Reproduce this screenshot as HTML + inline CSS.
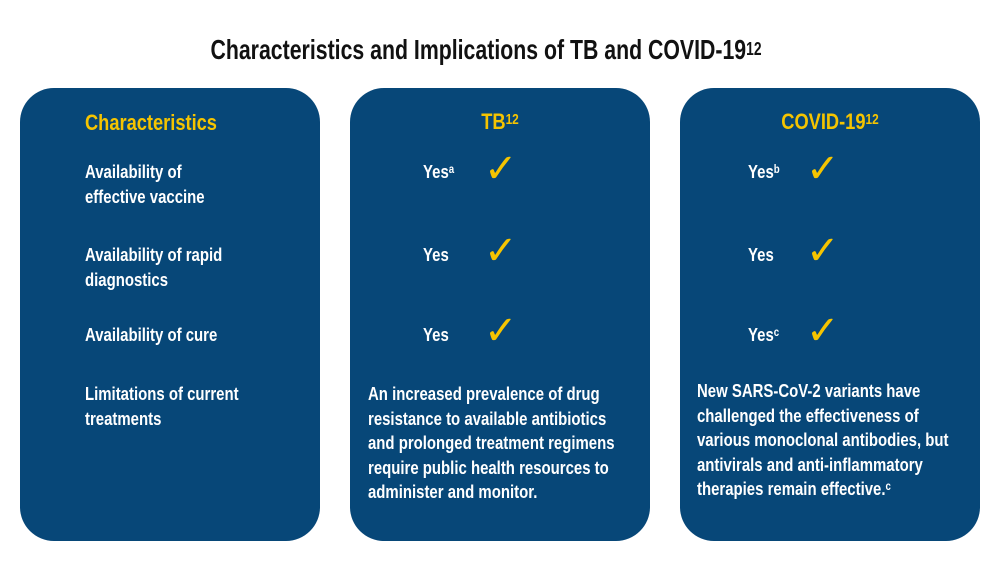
<!DOCTYPE html>
<html><head><meta charset="utf-8"><style>
body{margin:0;width:1000px;height:563px;background:#fff;position:relative;overflow:hidden;font-family:"Liberation Sans",sans-serif;font-weight:bold}
.p{position:absolute;top:88px;width:300px;height:453px;background:#074778;border-radius:34px}
.t{position:absolute;color:#fff;font-size:18px;line-height:24.5px;white-space:nowrap;transform:scaleX(.83);transform-origin:left top}
.c{transform-origin:center top}
.y{color:#f5c400}
.ck{position:absolute;color:#f5c400;font-size:40px;line-height:40px;font-family:"DejaVu Sans",sans-serif;font-weight:bold}
sup{font-size:65%;vertical-align:top;position:relative;top:-2px}
</style></head><body>
<div style="position:absolute;left:-14px;width:1000px;top:33px;text-align:center;font-size:28px;line-height:34px;color:#111;transform:scaleX(.76);transform-origin:center top">Characteristics and Implications of TB and COVID-19<sup style="top:-1px">12</sup></div>
<div class="p" style="left:20px"></div>
<div class="p" style="left:350px"></div>
<div class="p" style="left:680px"></div>
<div class="t y" style="left:85px;top:111px;font-size:22px">Characteristics</div>
<div class="t y c" style="left:350px;width:300px;text-align:center;top:110px;font-size:22px">TB<sup>12</sup></div>
<div class="t y c" style="left:680px;width:300px;text-align:center;top:110px;font-size:22px">COVID-19<sup>12</sup></div>
<div class="t" style="left:85px;top:160px">Availability of<br>effective vaccine</div>
<div class="t" style="left:85px;top:243px">Availability of rapid<br>diagnostics</div>
<div class="t" style="left:85px;top:323px">Availability of cure</div>
<div class="t" style="left:85px;top:382px">Limitations of current<br>treatments</div>
<div class="t" style="left:423px;top:160px">Yes<sup>a</sup></div>
<div class="t" style="left:423px;top:243px">Yes</div>
<div class="t" style="left:423px;top:323px">Yes</div>
<div class="t" style="left:748px;top:160px">Yes<sup>b</sup></div>
<div class="t" style="left:748px;top:243px">Yes</div>
<div class="t" style="left:748px;top:323px">Yes<sup>c</sup></div>
<div class="ck" style="left:484px;top:149px">✓</div>
<div class="ck" style="left:484px;top:231px">✓</div>
<div class="ck" style="left:484px;top:311px">✓</div>
<div class="ck" style="left:806px;top:149px">✓</div>
<div class="ck" style="left:806px;top:231px">✓</div>
<div class="ck" style="left:806px;top:311px">✓</div>
<div class="t" style="left:368px;top:382px">An increased prevalence of drug<br>resistance to available antibiotics<br>and prolonged treatment regimens<br>require public health resources to<br>administer and monitor.</div>
<div class="t" style="left:697px;top:379px">New SARS-CoV-2 variants have<br>challenged the effectiveness of<br>various monoclonal antibodies, but<br>antivirals and anti-inflammatory<br>therapies remain effective.<sup>c</sup></div>
</body></html>
